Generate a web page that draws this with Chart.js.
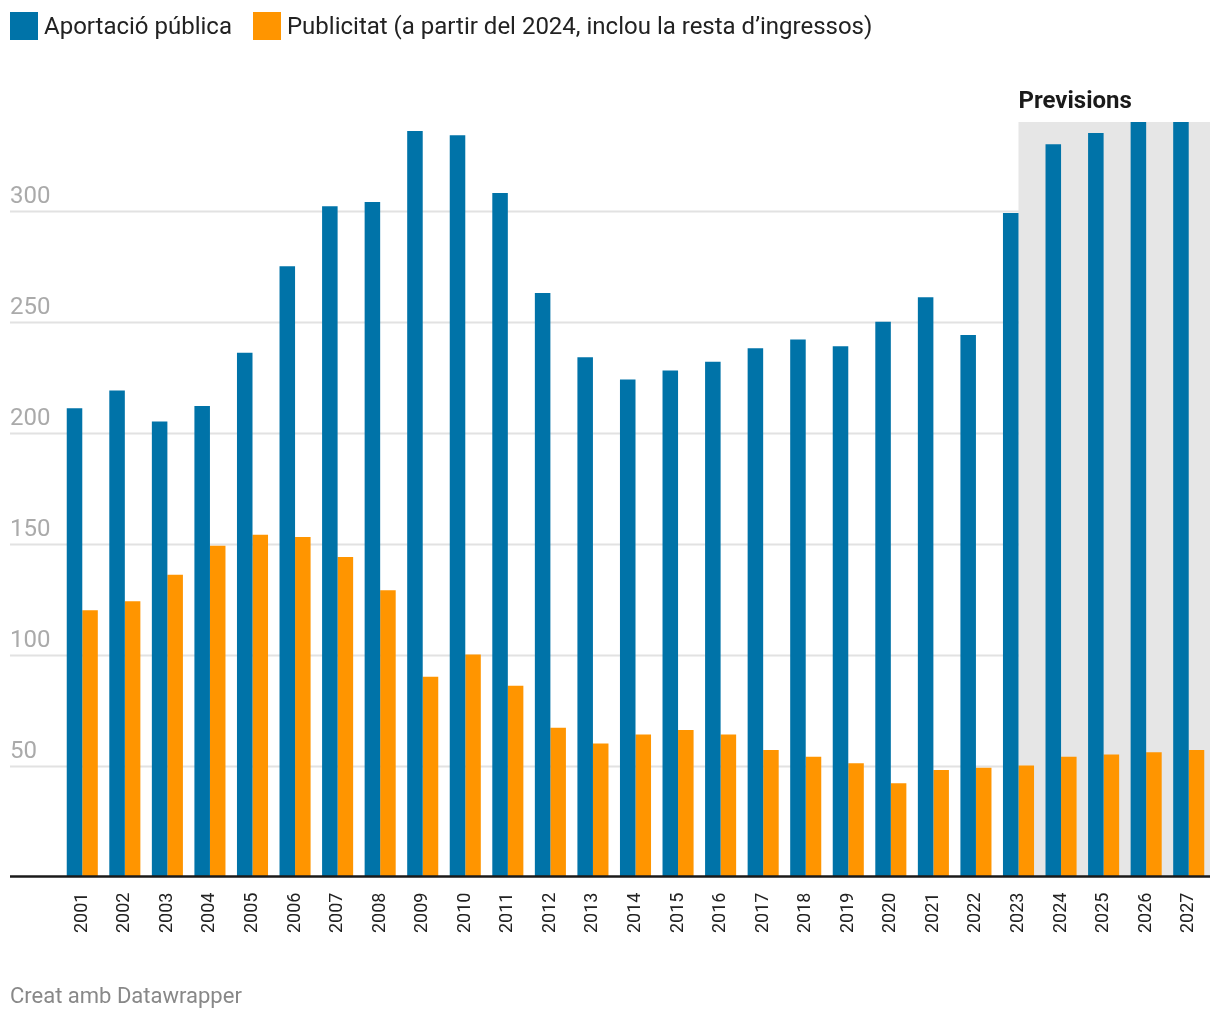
<!DOCTYPE html>
<html>
<head>
<meta charset="utf-8">
<script src="https://cdn.jsdelivr.net/npm/chart.js@4.4.1/dist/chart.umd.min.js"></script>
<style>
  body { margin: 0; background: #fff; font-family: Roboto, "Noto Sans", sans-serif; }
  #wrap { position: relative; width: 1220px; height: 1020px; }
  #chart { position: absolute; left: 0; top: 0; }
  .legend { position: absolute; top: 12px; left: 10px; display: flex; align-items: center; font-size: 24px; color: #222; }
  .legend span.sw { display: inline-block; width: 28px; height: 28px; margin-right: 6px; }
  .legend .item { display: flex; align-items: center; margin-right: 21px; }
  .footer { position: absolute; left: 10px; top: 983px; font-size: 22px; color: #888; }
</style>
</head>
<body>
<div id="wrap">
  <canvas id="chart" width="1220" height="1020"></canvas>
  <div class="legend">
    <div class="item"><span class="sw" style="background:#0073a8"></span>Aportació pública</div>
    <div class="item"><span class="sw" style="background:#ff9500"></span>Publicitat (a partir del 2024, inclou la resta d’ingressos)</div>
  </div>
  <div class="footer">Creat amb Datawrapper</div>
</div>
<script>
const years = ['2001', '2002', '2003', '2004', '2005', '2006', '2007', '2008', '2009', '2010',
  '2011', '2012', '2013', '2014', '2015', '2016', '2017', '2018', '2019', '2020',
  '2021', '2022', '2023', '2024', '2025', '2026', '2027'];

const aportacio = [211, 219, 205, 212, 236, 275, 302, 304, 336, 334,
  308, 263, 234, 224, 228, 232, 238, 242, 239, 250,
  261, 244, 299, 330, 335, 341, 343];

const publicitat = [120, 124, 136, 149, 154, 153, 144, 129, 90, 100,
  86, 67, 60, 64, 66, 64, 57, 54, 51, 42,
  48, 49, 50, 54, 55, 56, 57];

const yTicks = [50, 100, 150, 200, 250, 300];
const forecastFrom = '2023';
const forecastLabel = 'Previsions';

// gridlines, y labels, forecast band
const backdrop = {
  id: 'backdrop',
  beforeDatasetsDraw(chart) {
    const { ctx, chartArea, scales: { x, y } } = chart;
    ctx.save();
    ctx.strokeStyle = '#e2e2e2';
    ctx.lineWidth = 2;
    ctx.fillStyle = '#aaa';
    ctx.font = '24px Roboto';
    ctx.textBaseline = 'alphabetic';
    yTicks.forEach(v => {
      const py = Math.round(y.getPixelForValue(v)) + 0.5;
      ctx.beginPath();
      ctx.moveTo(10, py);
      ctx.lineTo(chartArea.right, py);
      ctx.stroke();
      ctx.fillText(String(v), 10, py - 9);
    });

    const bx = x.getPixelForValue(years.indexOf(forecastFrom));
    ctx.fillStyle = '#e6e6e6';
    ctx.fillRect(bx, chartArea.top, chartArea.right - bx, chartArea.bottom - chartArea.top);

    ctx.fillStyle = '#1a1a1a';
    ctx.font = 'bold 24px Roboto';
    ctx.fillText(forecastLabel, bx, chartArea.top - 14);
    ctx.restore();
  },
  afterDatasetsDraw(chart) {
    const { ctx, chartArea } = chart;
    ctx.save();
    ctx.strokeStyle = '#1a1a1a';
    ctx.lineWidth = 2.5;
    ctx.beginPath();
    ctx.moveTo(10, chartArea.bottom);
    ctx.lineTo(chartArea.right, chartArea.bottom);
    ctx.stroke();
    ctx.restore();
  }
};

new Chart(document.getElementById('chart'), {
  type: 'bar',
  data: {
    labels: years,
    datasets: [
      { label: 'Aportació pública', data: aportacio, backgroundColor: '#0073a8' },
      { label: 'Publicitat (a partir del 2024, inclou la resta d’ingressos)', data: publicitat, backgroundColor: '#ff9500' }
    ]
  },
  options: {
    responsive: false,
    animation: false,
    devicePixelRatio: 1,
    layout: { padding: { left: 61, right: 10, top: 122, bottom: 79 } },
    datasets: { bar: { barPercentage: 1, categoryPercentage: 0.73 } },
    plugins: { legend: { display: false }, tooltip: { enabled: false } },
    scales: {
      x: {
        grid: { display: false },
        border: { display: false },
        afterFit(scale) { scale.paddingLeft = 0; scale.paddingRight = 0; },
        ticks: {
          minRotation: 90, maxRotation: 90, padding: 8,
          color: '#222', font: { family: 'Roboto', size: 18 }
        }
      },
      y: { display: false, min: 0, max: 340 }
    }
  },
  plugins: [backdrop]
});
</script>
</body>
</html>
